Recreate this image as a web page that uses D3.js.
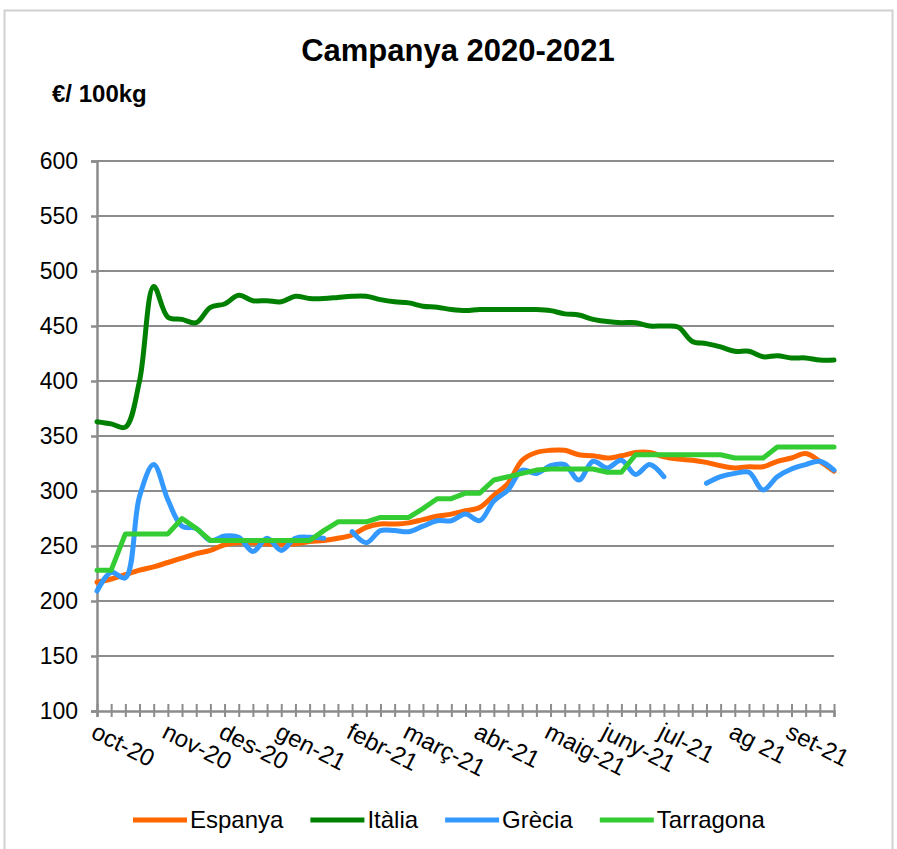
<!DOCTYPE html>
<html lang="ca">
<head>
<meta charset="UTF-8">
<title>Campanya 2020-2021</title>
<script src="https://cdn.jsdelivr.net/npm/d3@7"></script>
<style>
    body { margin: 0; background: #fff; }
    svg { display: block; font-family: "Liberation Sans", Arial, sans-serif; }
</style>
</head>
<body>
<svg width="897" height="849"></svg>
<script>
    // weekly prices, €/100kg, 53 weeks from oct-20 to set-21 (null = no quote)
    var espanya = [217, 220, 224, 228, 231, 235, 239, 243, 246, 251, 253, 253, 252, 251, 252, 254, 255, 257, 260, 267,
        270, 270, 271, 274, 277, 279, 282, 285, 296, 307, 328, 335, 337, 337, 333, 332, 330, 332, 335, 335,
        331, 329, 328, 326, 323, 321, 322, 322, 327, 330, 334, 327, 318];
    var italia = [363, 361, 358, 400, 486, 458, 456, 453, 467, 470, 478, 473, 473, 472, 477, 475, 475, 476, 477, 477,
        474, 472, 471, 468, 467, 465, 464, 465, 465, 465, 465, 465, 464, 461, 460, 456, 454, 453, 453, 450,
        450, 449, 436, 434, 431, 427, 427, 422, 423, 421, 421, 419, 419];
    var grecia = [209, 226, 221, 295, 324, 292, 268, 266, 255, 259, 258, 245, 257, 246, 257, 258, 257, null, 263, 253,
        264, 264, 263, 268, 273, 273, 279, 273, 291, 301, 319, 316, 323, 324, 310, 327, 321, 328, 315, 324,
        313, null, null, 307, 313, 316, 317, 301, 313, 320, 324, 327, 319];
    var tarragona = [228, 228, 261, 261, 261, 261, 275, 266, 255, 255, 255, 255, 255, 255, 255, 255, 264, 272, 272, 272,
        276, 276, 276, 284, 293, 293, 298, 298, 310, 313, 316, 319, 320, 320, 320, 320, 317, 317, 333, 333,
        333, 333, 333, 333, 333, 330, 330, 330, 340, 340, 340, 340, 340];

    // month labels and the week where each one sits
    var months = ["oct-20", "nov-20", "des-20", "gen-21", "febr-21", "març-21", "abr-21", "maig-21", "juny-21", "jul-21", "ag 21", "set-21"];
    var monthWeek = [0, 5, 9, 13, 18, 22, 27, 32, 36, 40, 45, 49];
    var yTicks = [100, 150, 200, 250, 300, 350, 400, 450, 500, 550, 600];

    var series = [
        { name: "Espanya", values: espanya, color: "#ff6600", smooth: true },
        { name: "Itàlia", values: italia, color: "#008000", smooth: true },
        { name: "Grècia", values: grecia, color: "#3399ff", smooth: true },
        { name: "Tarragona", values: tarragona, color: "#33cc33", smooth: false }
    ];

    var svg = d3.select("svg");

    // chart area border
    svg.append("rect")
        .attr("x", 4.5).attr("y", 10.5)
        .attr("width", 888).attr("height", 850)
        .attr("fill", "none")
        .attr("stroke", "#d0d0d0")
        .attr("stroke-width", 2);

    var x = d3.scaleLinear().domain([0, espanya.length - 1]).range([97, 834]);
    var y = d3.scaleLinear().domain([100, 600]).range([711, 161]);

    // gridlines
    svg.append("g")
        .selectAll("line")
        .data(yTicks.slice(1))
        .enter()
        .append("line")
        .attr("x1", 97).attr("x2", 834)
        .attr("y1", function (d) { return y(d); })
        .attr("y2", function (d) { return y(d); })
        .attr("stroke", "#8c8c8c")
        .attr("stroke-width", 2);

    // y axis
    var yAxis = svg.append("g")
        .attr("transform", "translate(97,0)")
        .call(d3.axisLeft(y).tickValues(yTicks).tickSize(6).tickPadding(13).tickFormat(d3.format("d")));
    yAxis.selectAll("path, line").attr("stroke", "#8c8c8c").attr("stroke-width", 2.5);
    yAxis.selectAll("text").attr("font-size", 23).attr("fill", "#000");

    // x axis: weekly tick marks crossing the line
    var xAxis = svg.append("g")
        .attr("transform", "translate(0,711)")
        .call(d3.axisBottom(x).tickValues(d3.range(0, espanya.length)).tickSize(6).tickFormat(""));
    xAxis.select(".domain").attr("stroke", "#8c8c8c").attr("stroke-width", 2.5);
    xAxis.selectAll(".tick line").attr("y1", -7).attr("stroke", "#8c8c8c").attr("stroke-width", 2);

    svg.append("g")
        .selectAll("text")
        .data(months)
        .enter()
        .append("text")
        .attr("transform", function (d, i) { return "translate(" + (x(monthWeek[i]) + 1) + ",721) rotate(27)"; })
        .attr("dy", "0.75em")
        .attr("font-size", 24)
        .text(function (d) { return d; });

    // series lines
    var lineSmooth = d3.line()
        .defined(function (d) { return d != null; })
        .x(function (d, i) { return x(i); })
        .y(function (d) { return y(d); })
        .curve(d3.curveCatmullRom.alpha(0.5));
    var lineStraight = d3.line()
        .defined(function (d) { return d != null; })
        .x(function (d, i) { return x(i); })
        .y(function (d) { return y(d); });

    svg.append("g")
        .selectAll("path")
        .data(series)
        .enter()
        .append("path")
        .attr("fill", "none")
        .attr("stroke", function (d) { return d.color; })
        .attr("stroke-width", 5)
        .attr("stroke-linejoin", "round")
        .attr("stroke-linecap", "round")
        .attr("d", function (d) { return (d.smooth ? lineSmooth : lineStraight)(d.values); });

    // titles
    svg.append("text")
        .attr("x", 458).attr("y", 61)
        .attr("text-anchor", "middle")
        .attr("font-size", 31)
        .attr("font-weight", "bold")
        .text("Campanya 2020-2021");
    svg.append("text")
        .attr("x", 52).attr("y", 102)
        .attr("font-size", 24)
        .attr("font-weight", "bold")
        .text("€/ 100kg");

    // legend: entries laid out one after another with an equal gap
    var legend = svg.append("g").attr("transform", "translate(133,820)");
    var lx = 0;
    series.forEach(function (s) {
        var item = legend.append("g").attr("transform", "translate(" + lx + ",0)");
        item.append("line")
            .attr("x1", 0).attr("x2", 54)
            .attr("stroke", s.color)
            .attr("stroke-width", 5);
        var t = item.append("text")
            .attr("x", 57)
            .attr("dy", "0.35em")
            .attr("font-size", 24)
            .text(s.name);
        lx += 57 + t.node().getComputedTextLength() + 27;
    });
</script>
</body>
</html>
